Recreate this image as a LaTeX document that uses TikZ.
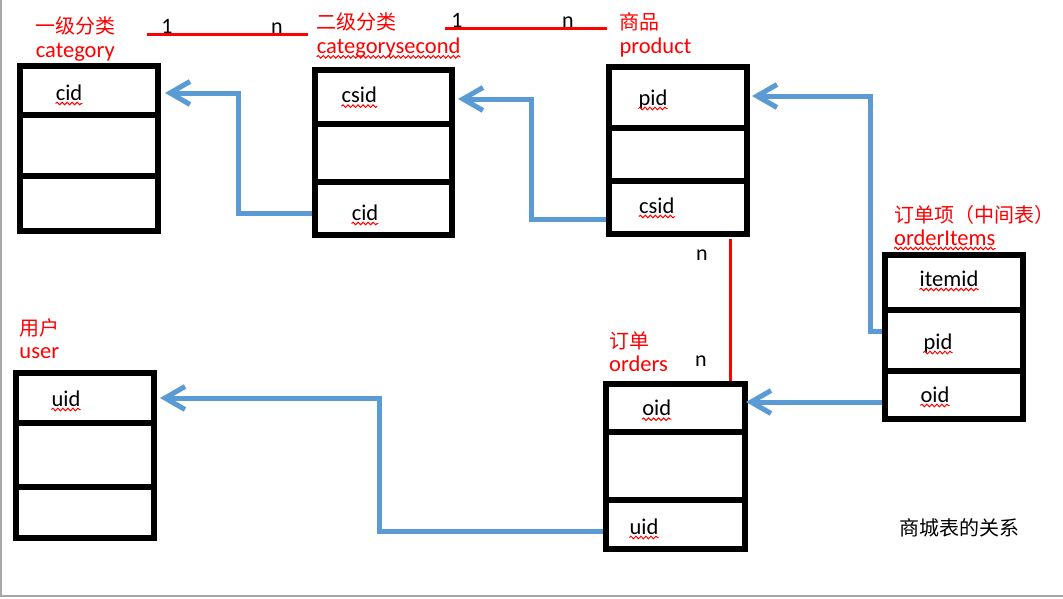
\documentclass[tikz,border=0pt]{standalone}
\usepackage{fontspec}
\setmainfont{Carlito}
\newfontfamily\cjk{Noto Sans CJK SC}
\usetikzlibrary{arrows.meta,decorations.pathmorphing}
\definecolor{relred}{HTML}{FF0000}
\definecolor{linkblue}{HTML}{5B9BD5}
\begin{document}
\begin{tikzpicture}[x=1pt,y=-1pt,
  tbl/.style={draw=black,line width=6pt,inner sep=0pt,minimum width=138pt,minimum height=165pt},
  divline/.style={draw=black,line width=6pt},
  fld/.style={inner sep=0pt,anchor=base,font=\fontsize{22.5}{26}\selectfont,text=black},
  ttlzh/.style={inner sep=0pt,anchor=base west,font=\cjk\fontsize{20}{24}\selectfont,text=relred},
  ttlen/.style={inner sep=0pt,anchor=base west,font=\fontsize{22.5}{26}\selectfont,text=relred},
  card/.style={inner sep=0pt,anchor=base,font=\fontsize{22}{26}\selectfont,text=black},
  capnote/.style={inner sep=0pt,anchor=base,font=\cjk\fontsize{20}{24}\selectfont,text=black},
  rel/.style={draw=relred,line width=3pt},
  conn/.style={draw=linkblue,line width=5pt,-{Straight Barb[length=20pt,width=23pt]}},
  squig/.style={draw=relred,line width=1pt,decorate,decoration={snake,amplitude=1.3pt,segment length=5pt}}
]
\useasboundingbox (0,0) rectangle (1063,598);
\fill[white] (0,0) rectangle (1063,598);
\draw[black!35,line width=1.5pt] (0.75,0) -- (0.75,596) -- (1063,596);

% tables
\node[tbl] (cat) at (89,148.5) {};
\node[tbl,minimum width=137pt] (cs) at (383.5,152.5) {};
\node[tbl,minimum height=167pt] (prod) at (678,150.5) {};
\node[tbl,minimum height=164pt] (oi) at (954,337) {};
\node[tbl] (usr) at (85,455.5) {};
\node[tbl,minimum width=139pt] (ord) at (675.5,466.5) {};

% dividers
\draw[divline] (cat.west |- 0,115) -- (cat.east |- 0,115);
\draw[divline] (cat.west |- 0,176) -- (cat.east |- 0,176);
\draw[divline] (cs.west |- 0,123.5) -- (cs.east |- 0,123.5);
\draw[divline] (cs.west |- 0,182) -- (cs.east |- 0,182);
\draw[divline] (prod.west |- 0,128) -- (prod.east |- 0,128);
\draw[divline] (prod.west |- 0,181) -- (prod.east |- 0,181);
\draw[divline] (oi.west |- 0,309.5) -- (oi.east |- 0,309.5);
\draw[divline] (oi.west |- 0,371) -- (oi.east |- 0,371);
\draw[divline] (usr.west |- 0,422.5) -- (usr.east |- 0,422.5);
\draw[divline] (usr.west |- 0,486.5) -- (usr.east |- 0,486.5);
\draw[divline] (ord.west |- 0,432) -- (ord.east |- 0,432);
\draw[divline] (ord.west |- 0,500) -- (ord.east |- 0,500);

% titles
\node[ttlzh] (catzh) at (35.7,33.5) {一级分类};
\node[ttlen] (caten) at (35.7,57) {category};
\node[ttlzh] (cszh) at (316.7,29.5) {二级分类};
\node[ttlen] (csen) at (316.7,53.3) {categorysecond};
\node[ttlzh] (przh) at (619.3,29) {商品};
\node[ttlen] (pren) at (619.3,53.3) {product};
\node[ttlzh] (oizh) at (894,222) {订单项（中间表）};
\node[ttlen] (oien) at (894,245) {orderItems};
\node[ttlzh] (orzh) at (609,348) {订单};
\node[ttlen] (oren) at (609,371.7) {orders};
\node[ttlzh] (uszh) at (19.3,335) {用户};
\node[ttlen] (usen) at (19.3,358) {user};
\node[capnote] (capt) at (959,535.5) {商城表的关系};

% fields
\node[fld] (catcid) at (69,100) {cid};
\node[fld] (cscsid) at (359.3,102.7) {csid};
\node[fld] (cscid) at (365,220) {cid};
\node[fld] (prpid) at (653,105) {pid};
\node[fld] (prcsid) at (656.7,213) {csid};
\node[fld] (oiitem) at (949,286) {itemid};
\node[fld] (oipid) at (938,349) {pid};
\node[fld] (oioid) at (935,402) {oid};
\node[fld] (ordoid) at (656.7,415.7) {oid};
\node[fld] (orduid) at (644,534) {uid};
\node[fld] (usuid) at (66,406) {uid};

% spell-check squiggles
\foreach \n in {csen,oien,catcid,cscsid,cscid,prpid,prcsid,oiitem,oipid,oioid,ordoid,orduid,usuid}
  \draw[squig] ([yshift=-3.5pt]\n.base west) -- ([yshift=-3.5pt]\n.base east);

% cardinality labels and red relation lines
\node[card] (c1a) at (167,33) {1};
\node[card] (c1b) at (277,33) {n};
\node[card] (c2a) at (457,27) {1};
\node[card] (c2b) at (568,27) {n};
\node[card] (c3a) at (702,260.7) {n};
\node[card] (c3b) at (701,366) {n};
\coordinate (r1a) at (147,34);
\coordinate (r1b) at (308,34);
\coordinate (r2a) at (445,28.3);
\coordinate (r2b) at (607,28.3);
\draw[rel] (r1a) -- (r1b);
\draw[rel] (r2a) -- (r2b);
\draw[rel,line width=2.5pt] (730.5,239) -- (ord.north -| 730.5,0);

% foreign key connectors
\coordinate (catin) at (165,93);
\coordinate (csin) at (458,99);
\coordinate (prin) at (752,96);
\coordinate (ordin) at (746,402);
\coordinate (usin) at (160,398);
\draw[conn] (cs.west |- 0,213) -| (238,93) -- (catin);
\draw[conn] (prod.west |- 0,219) -| (531,99) -- (csin);
\draw[conn] (oi.west |- 0,331) -| (870,96) -- (prin);
\draw[conn] (oi.west |- 0,402) -- (ordin);
\draw[conn] (ord.west |- 0,531) -| (379,398) -- (usin);
\end{tikzpicture}
\end{document}
